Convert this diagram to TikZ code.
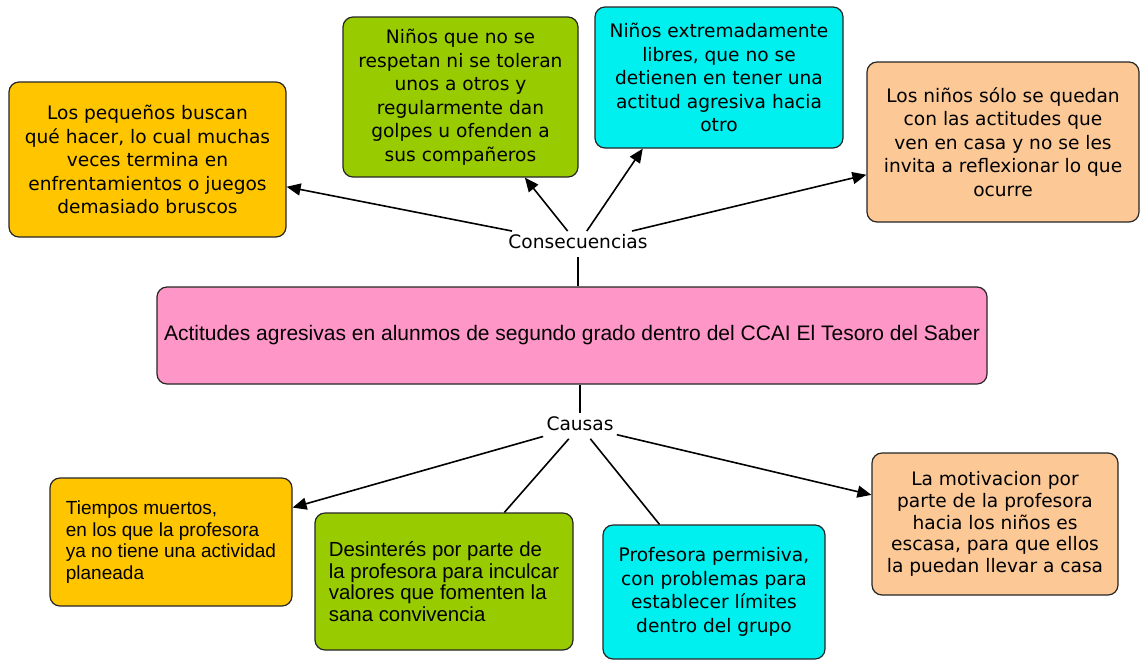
\documentclass[tikz,border=0pt]{standalone}
\usepackage{fontspec}
\setmainfont{DejaVu Sans}
\newfontfamily\arialfont{Liberation Sans}
\usepackage{xcolor}
\usepackage{tikz}
\usetikzlibrary{arrows.meta}
\definecolor{boxorange}{RGB}{255,198,0}
\definecolor{boxgreen}{RGB}{153,204,0}
\definecolor{boxcyan}{RGB}{0,240,240}
\definecolor{boxpeach}{RGB}{252,200,150}
\definecolor{boxpink}{RGB}{255,150,200}
\tikzset{
    >={Triangle[length=7pt,width=6pt]},
    mapbox/.style={
        rectangle,
        rounded corners=5pt,
        draw=black!85, line width=0.6pt,
        inner sep=2pt,
        align=center,
        font={\fontsize{9.3pt}{11.75pt}\selectfont}
    },
    arialbox/.style={
        mapbox,
        align=left,
        font={\arialfont\fontsize{9.5pt}{10.9pt}\selectfont}
    },
    linkword/.style={inner sep=1.5pt, text depth=2.5pt,
        font={\fontsize{9.3pt}{11pt}\selectfont}},
    link/.style={draw, line width=0.8pt},
    linkarrow/.style={link, ->},
}
\begin{document}
\begin{tikzpicture}[x=0.5pt, y=-0.5pt]
\path[fill=white] (0,0) rectangle (1140,660);
\useasboundingbox (0,0) rectangle (1140,660);
% tema central
\node(actitudes) at (572,335.5) [mapbox, fill=boxpink, minimum width=415pt, minimum height=48.5pt,
    font={\arialfont\fontsize{10.5pt}{12pt}\selectfont}]
    {Actitudes agresivas en alunmos de segundo grado dentro del CCAI El Tesoro del Saber};
\node(cons) at (578,244) [linkword]{Consecuencias};
\node(causas) at (580,426) [linkword]{Causas};
% consecuencias
\node(pequenos) at (147.5,159.5) [mapbox, fill=boxorange, minimum width=138.5pt, minimum height=77.5pt]
    {Los pequeños buscan\\qué hacer, lo cual muchas\\veces termina en\\enfrentamientos o juegos\\demasiado bruscos};
\node(respetan) at (460.5,97) [mapbox, fill=boxgreen, minimum width=117.5pt, minimum height=80pt]
    {Niños que no se\\respetan ni se toleran\\unos a otros y\\regularmente dan\\golpes u ofenden a\\sus compañeros};
\node(libres) at (719,77.5) [mapbox, fill=boxcyan, minimum width=124pt, minimum height=70.5pt]
    {Niños extremadamente\\libres, que no se\\detienen en tener una\\actitud agresiva hacia\\otro};
\node(casa) at (1003,142) [mapbox, fill=boxpeach, minimum width=136pt, minimum height=80pt]
    {Los niños sólo se quedan\\con las actitudes que\\ven en casa y no se les\\invita a reflexionar lo que\\ocurre};
% causas
\node(tiempos) at (171,542) [arialbox, fill=boxorange, minimum width=121pt, minimum height=64pt]
    {Tiempos muertos,\\en los que la profesora\\ya no tiene una actividad\\planeada};
\node(desinteres) at (444,581.5) [arialbox, fill=boxgreen, minimum width=129pt, minimum height=68.5pt,
    font={\arialfont\fontsize{10.2pt}{10.9pt}\selectfont}]
    {Desinterés por parte de\\la profesora para inculcar\\valores que fomenten la\\sana convivencia};
\node(permisiva) at (714,592) [mapbox, fill=boxcyan, minimum width=111pt, minimum height=67pt]
    {Profesora permisiva,\\con problemas para\\establecer límites\\dentro del grupo};
\node(motivacion) at (995,524) [mapbox, fill=boxpeach, minimum width=123pt, minimum height=71pt,
    font={\fontsize{9.3pt}{10.9pt}\selectfont}]
    {La motivacion por\\parte de la profesora\\hacia los niños es\\escasa, para que ellos\\la puedan llevar a casa};
\draw[link] (actitudes.north -| cons) -- (cons);
\draw[linkarrow] (cons) -- (pequenos);
\draw[linkarrow] (cons) -- (respetan);
\draw[linkarrow] (cons) -- (libres.223);
\draw[linkarrow] (cons) -- (casa);
\draw[link] (actitudes.south -| causas) -- (causas);
\draw[linkarrow] (causas) -- (tiempos);
\draw[link] (causas) -- (desinteres);
\draw[link] (causas) -- (permisiva);
\draw[linkarrow] (causas) -- (motivacion);
\end{tikzpicture}
\end{document}
